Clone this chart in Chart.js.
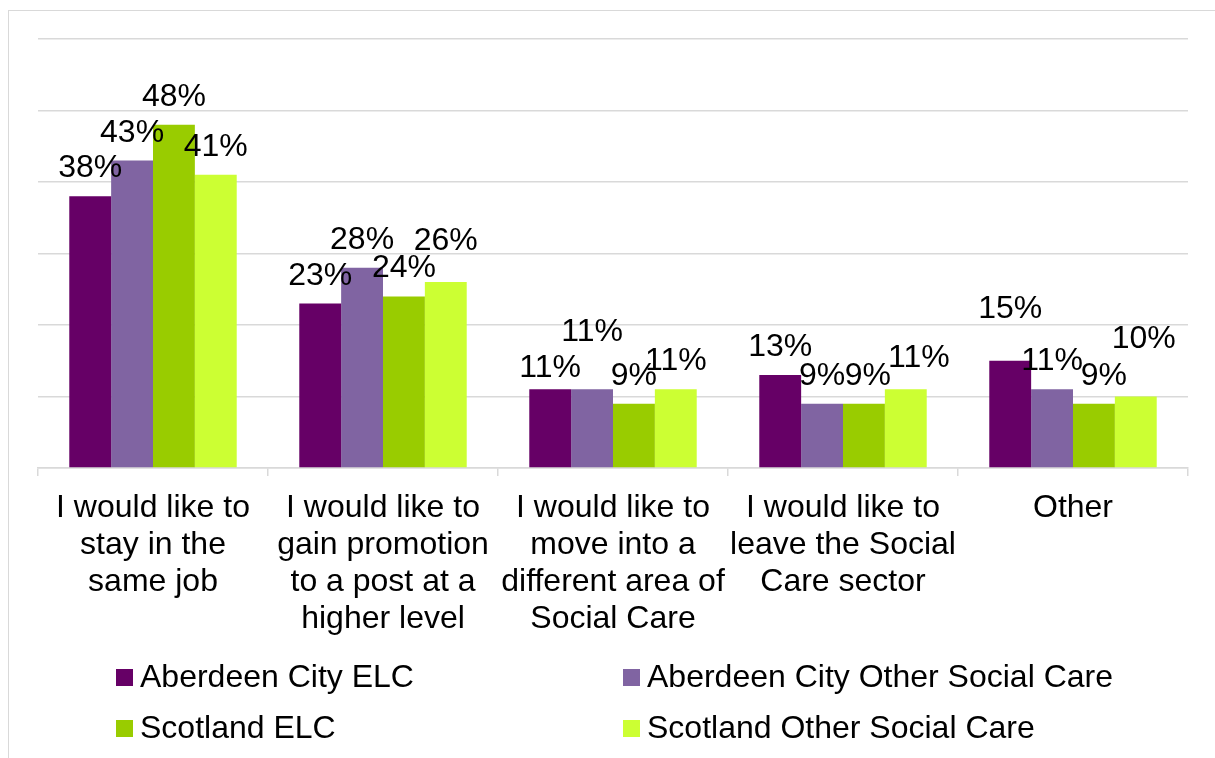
<!DOCTYPE html>
<html>
<head>
<meta charset="utf-8">
<script src="https://cdn.jsdelivr.net/npm/chart.js@4/dist/chart.umd.min.js"></script>
<style>
  html, body { margin: 0; padding: 0; background: #fff; }
  #wrap { width: 1215px; height: 758px; }
</style>
</head>
<body>
<div id="wrap"><canvas id="chart" width="1215" height="758"></canvas></div>
<script>
var categories = [
    ["I would like to", "stay in the", "same job"],
    ["I would like to", "gain promotion", "to a post at a", "higher level"],
    ["I would like to", "move into a", "different area of", "Social Care"],
    ["I would like to", "leave the Social", "Care sector"],
    "Other"
];
var seriesNames = [
    "Aberdeen City ELC", "Aberdeen City Other Social Care",
    "Scotland ELC", "Scotland Other Social Care"
];
var aberdeenElc = [38, 23, 11, 13, 15];
var aberdeenOther = [43, 28, 11, 9, 11];
var scotlandElc = [48, 24, 9, 9, 9];
var scotlandOther = [41, 26, 11, 11, 10];
var colours = ['#660066', '#8064A2', '#99CC00', '#CCFF33'];

var FONT = '"Liberation Sans", Arial, sans-serif';
var SIZE = 32;

// labels that were dragged about in the original, [dataset][index] -> [dx, dy]
var nudges = {
    '0,2': [0, 7], '1,2': [0, -29], '3,1': [0, -13],
    '2,3': [4, 0], '3,3': [13, -3],
    '0,4': [0, -24], '2,4': [10, 0], '3,4': [8, -30]
};

var barLabels = {
    id: 'barLabels',
    afterDatasetsDraw: function(chart) {
        var ctx = chart.ctx;
        ctx.save();
        ctx.font = SIZE + 'px ' + FONT;
        ctx.fillStyle = '#000';
        ctx.textAlign = 'center';
        ctx.textBaseline = 'alphabetic';
        chart.data.datasets.forEach(function(ds, di) {
            chart.getDatasetMeta(di).data.forEach(function(bar, i) {
                var n = nudges[di + ',' + i] || [0, 0];
                ctx.fillText(ds.data[i] + '%', bar.x + n[0], bar.y - 19 + n[1]);
            });
        });
        ctx.restore();
    }
};

var frameAndLegend = {
    id: 'frameAndLegend',
    beforeDraw: function(chart) {
        var ctx = chart.ctx;
        ctx.save();
        ctx.strokeStyle = '#d9d9d9';
        ctx.lineWidth = 1;
        ctx.strokeRect(8.5, 10.5, 1300, 900);
        ctx.restore();
    },
    afterDraw: function(chart) {
        var ctx = chart.ctx;
        var cols = [116, 623], rows = [677, 728];
        ctx.save();
        ctx.font = SIZE + 'px ' + FONT;
        ctx.textBaseline = 'middle';
        ctx.textAlign = 'left';
        chart.data.datasets.forEach(function(ds, i) {
            var x = cols[i % 2], y = rows[Math.floor(i / 2)];
            ctx.fillStyle = ds.backgroundColor;
            ctx.fillRect(x, y - 8, 17, 17);
            ctx.fillStyle = '#000';
            ctx.fillText(ds.label, x + 24, y + 1);
        });
        ctx.restore();
    }
};

var values = [aberdeenElc, aberdeenOther, scotlandElc, scotlandOther];

new Chart(document.getElementById('chart').getContext('2d'), {
    type: 'bar',
    data: {
        labels: categories,
        datasets: values.map(function(v, i) {
            return {
                label: seriesNames[i],
                data: v,
                backgroundColor: colours[i],
                categoryPercentage: 0.728,
                barPercentage: 1.0
            };
        })
    },
    options: {
        responsive: false,
        animation: false,
        layout: { padding: { left: 38, right: 27, top: 39, bottom: 0 } },
        plugins: {
            legend: { display: false },
            tooltip: { enabled: false }
        },
        scales: {
            x: {
                grid: {
                    drawOnChartArea: false,
                    drawTicks: true,
                    tickLength: 8,
                    color: '#d9d9d9',
                    lineWidth: 1.5
                },
                border: { color: '#d9d9d9', width: 1.5 },
                ticks: {
                    color: '#000',
                    padding: 14,
                    maxRotation: 0,
                    autoSkip: false,
                    font: { family: FONT, size: SIZE, lineHeight: 1.15 }
                },
                afterFit: function(scale) { scale.height = 290; }
            },
            y: {
                min: 0,
                max: 60,
                ticks: { display: false, stepSize: 10 },
                grid: { color: '#d9d9d9', lineWidth: 1.5, drawTicks: false },
                border: { display: false }
            }
        }
    },
    plugins: [barLabels, frameAndLegend]
});
</script>
</body>
</html>
